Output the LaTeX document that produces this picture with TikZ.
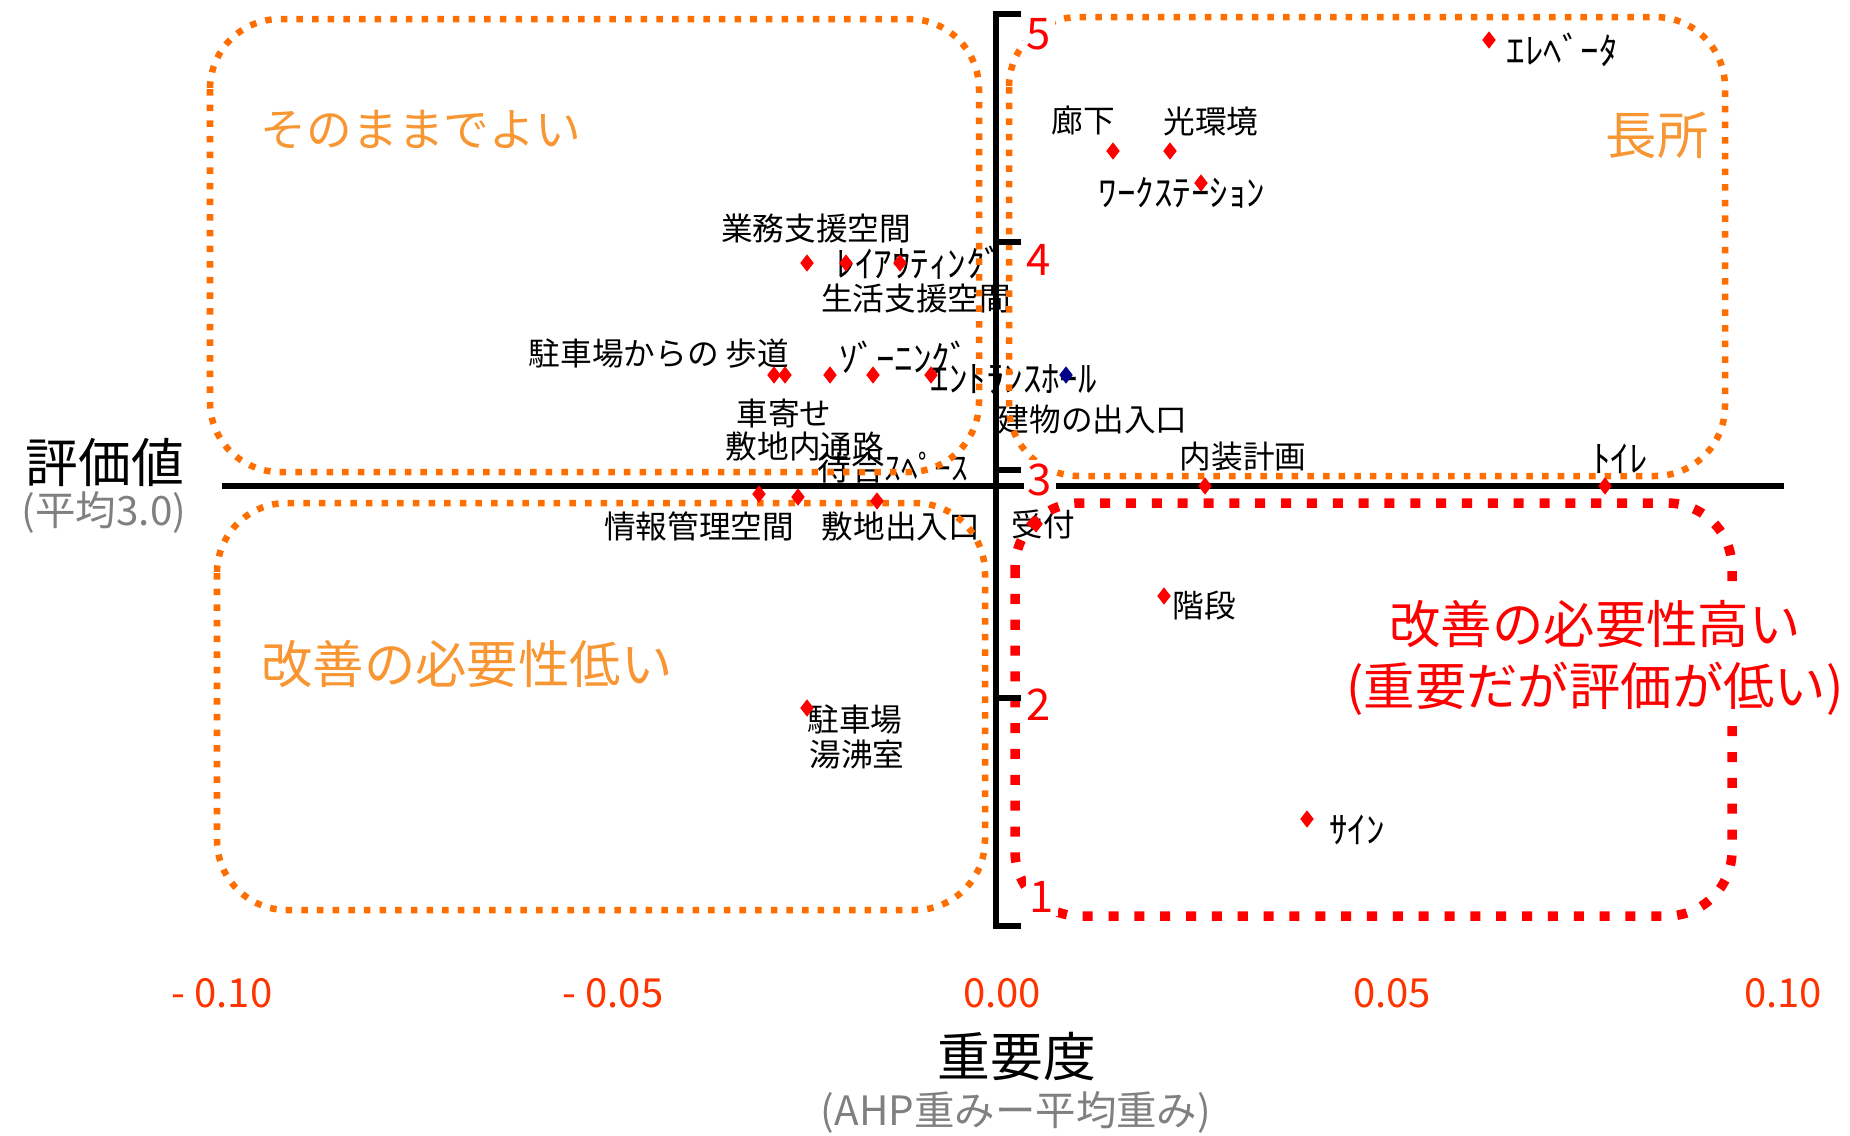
\documentclass[tikz,border=0pt]{standalone}
\usepackage{fontspec}
\setmainfont{Noto Sans CJK JP}
\usepackage{color}
\usepackage{tikz}
\usetikzlibrary{shapes.geometric}

\definecolor{boxorange}{RGB}{255,110,0}
\definecolor{textorange}{RGB}{247,150,50}
\definecolor{tickred}{RGB}{255,51,0}
\definecolor{pointnavy}{RGB}{0,0,140}
\definecolor{subgray}{RGB}{128,128,128}

\begin{document}
\begin{tikzpicture}[x=0.01cm,y=-0.01cm]
\tikzstyle{every node}=[inner sep=0pt]
\tikzstyle{pt}=[diamond,fill=red,minimum width=0.14cm,minimum height=0.18cm]
\tikzstyle{lbl}=[font=\fontsize{9}{9}\selectfont]
\tikzstyle{kana}=[font=\fontsize{10.5}{10.5}\selectfont]
\tikzstyle{region}=[draw=boxorange,line width=1.85pt,dash pattern=on 1.85pt off 2.6pt,rounded corners=0.7cm]
\tikzstyle{hotregion}=[draw=red,line width=2.7pt,dash pattern=on 2.85pt off 4.5pt,rounded corners=0.65cm]
\tikzstyle{axis}=[line width=1.8pt]
\tikzstyle{ynum}=[fill=white,inner sep=1pt,text=red,font=\fontsize{12.4}{12.4}\selectfont]
\tikzstyle{xnum}=[text=tickred,font=\fontsize{11.4}{11.4}\selectfont]
\tikzstyle{quad}=[font=\fontsize{14.6}{17.6}\selectfont]
\tikzstyle{axtitle}=[font=\fontsize{15}{15}\selectfont]
\tikzstyle{axsub}=[text=subgray,font=\fontsize{11.5}{11.5}\selectfont]

\useasboundingbox (0,0) rectangle (1850,1136);

%% Item labels
\node[lbl] (l-corridor) at (1083,121) {廊下};
\node[lbl] (l-light) at (1211,121) {光環境};
\node[kana] (l-work) at (1182,193) {ﾜｰｸｽﾃｰｼｮﾝ};
\node[kana,anchor=west] (l-elev) at (1506,50) {ｴﾚﾍﾞｰﾀ};
\node[lbl] (l-office) at (816,228) {業務支援空間};
\node[kana] (l-layout) at (920,263) {ﾚｲｱｳﾃｨﾝｸﾞ};
\node[lbl] (l-living) at (916,299) {生活支援空間};
\node[lbl] (l-walk) at (659,354) {駐車場からの 歩道};
\node[kana] (l-zoning) at (904,357) {ｿﾞｰﾆﾝｸﾞ};
\node[kana,anchor=west] (l-hall) at (930,379) {ｴﾝﾄﾗﾝｽﾎｰﾙ};
\node[lbl,anchor=west] (l-door) at (997,419) {建物の出入口};
\node[lbl] (l-porch) at (784,414) {車寄せ};
\node[lbl] (l-path) at (805,446) {敷地内通路};
\node[lbl,font=\fontsize{9.5}{9.5}\selectfont] (l-wait) at (893,468) {待合ｽﾍﾟｰｽ};
\node[lbl] (l-info) at (699,526) {情報管理空間};
\node[lbl] (l-gate) at (901,526) {敷地出入口};
\node[lbl] (l-desk) at (1043,524) {受付};
\node[lbl] (l-interior) at (1243,457) {内装計画};
\node[kana] (l-toilet) at (1620,459) {ﾄｲﾚ};
\node[lbl] (l-stairs) at (1204,606) {階段};
\node[kana] (l-sign) at (1357,830) {ｻｲﾝ};
\node[lbl] (l-parking) at (855,719) {駐車場};
\node[lbl] (l-kitchen) at (857,754) {湯沸室};

%% Quadrant captions
\node[quad,font=\fontsize{13}{13}\selectfont,text=textorange] (keep) at (421,130) {そのままでよい};
\node[quad,text=textorange] (merit) at (1657,135) {長所};
\node[quad,text=textorange] (lowneed) at (467,664) {改善の必要性低い};

%% Axis titles
\node[axtitle] (ytitle) at (105,462) {評価値};
\node[axsub] (ysub) at (104,512) {(平均3.0)};
\node[axtitle] (xtitle) at (1017,1057) {重要度};
\node[axsub] (xsub) at (1016,1112) {(AHP重みー平均重み)};

%% Dotted regions
\draw[region] (210,19) rectangle (979,472);
\draw[region] (1009,17) rectangle (1725,476);
\draw[region] (217,503) rectangle (985,910);
\draw[hotregion] (1015,503) rectangle (1732,916);

%% Axes
\coordinate (x-lo) at (222,486);
\coordinate (x-hi) at (1784,486);
\draw[axis] (x-lo) -- (x-hi);
\coordinate (y-top) at (996,14);
\coordinate (y-bot) at (996,926);
\draw[axis] ([xshift=0.25cm]y-top) -- (y-top) -- (y-bot) -- ([xshift=0.25cm]y-bot);
\foreach \yy in {242,470,698}
    \draw[axis] (996,\yy) -- (1021,\yy);

%% Data points
\foreach \n/\px/\py in {elev/1489/40, corridor/1113/151, light/1170/151,
    work/1201/183, office/807/263, layout/846/263, living/900/263,
    walk/774/375, porch/785/375, path/830/375, zoning/873/375, hall/931/375,
    info/759/494, wait/798/497, gate/877/501, desk/1036/524,
    interior/1205/486, toilet/1605/486, stairs/1164/596, sign/1307/819,
    parking/807/708}
    \node[pt] (p-\n) at (\px,\py) {};
\node[pt,fill=pointnavy] (p-door) at (1066,375) {};

%% Axis numbers
\foreach \v/\px/\py in {5/1039/34, 4/1039/260, 3/1040/480, 2/1039/705, 1/1042/897}
    \node[ynum] (y\v) at (\px,\py) {\v};
\foreach \v/\px in {- 0.10/222, - 0.05/613, 0.00/1002, 0.05/1392, 0.10/1783}
    \node[xnum] (x\px) at (\px,993) {\v};

%% Caption over the red region
\node[quad,text=red,fill=white,inner sep=3pt,align=center] (highneed) at (1595,658)
    {改善の必要性高い\\(重要だが評価が低い)};

\end{tikzpicture}
\end{document}
